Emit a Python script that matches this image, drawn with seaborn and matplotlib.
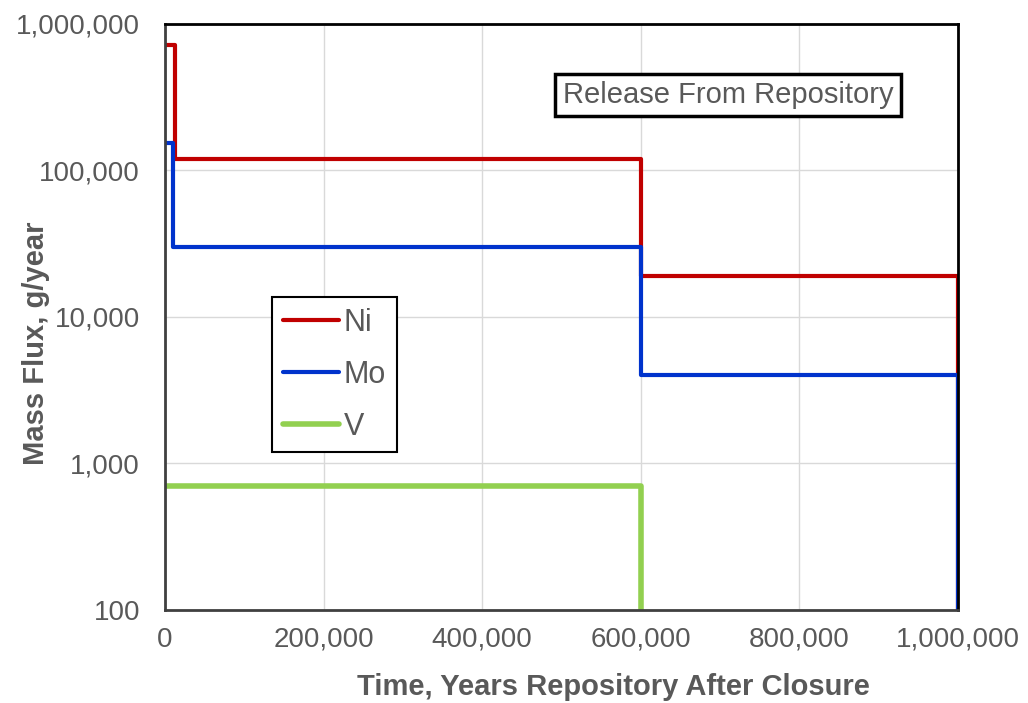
import pandas as pd
import seaborn as sns
import matplotlib.pyplot as plt
from matplotlib.ticker import FuncFormatter, NullLocator

# step data: value holds from each x until the next x
ni_x = [0, 12000, 600000, 1000000]
ni_y = [720000, 120000, 19000, 100]
mo_x = [0, 10000, 600000, 1000000]
mo_y = [155000, 30000, 4000, 100]
v_x = [0, 600000]
v_y = [700, 100]

df = pd.concat([
    pd.DataFrame({"time": ni_x, "flux": ni_y, "metal": "Ni"}),
    pd.DataFrame({"time": mo_x, "flux": mo_y, "metal": "Mo"}),
    pd.DataFrame({"time": v_x, "flux": v_y, "metal": "V"}),
])

colors = {"Ni": "#C00000", "Mo": "#0033CC", "V": "#92D050"}

sns.set_theme(style="whitegrid")
plt.rcParams["font.family"] = ["Liberation Sans", "DejaVu Sans"]

fig = plt.figure(figsize=(10.28, 7.03), dpi=100)
ax = fig.add_axes([0.1605, 0.1323, 0.7715, 0.8336])

sns.lineplot(data=df, x="time", y="flux", hue="metal", hue_order=["Ni", "Mo", "V"],
             palette=colors, estimator=None, drawstyle="steps-post",
             linewidth=3.0, ax=ax)
ax.lines[2].set_linewidth(4.0)

ax.set_yscale("log")
ax.set_ylim(100, 1000000)
ax.set_xlim(0, 1000000)
ax.set_xticks([0, 200000, 400000, 600000, 800000, 1000000])
ax.yaxis.set_minor_locator(NullLocator())
fmt = FuncFormatter(lambda v, p: f"{v:,.0f}")
ax.xaxis.set_major_formatter(fmt)
ax.yaxis.set_major_formatter(fmt)

ax.grid(True, color="#D9D9D9", linewidth=1)
ax.set_facecolor("white")
for side in ["top", "right"]:
    ax.spines[side].set_color("black")
    ax.spines[side].set_linewidth(2)
for side in ["left", "bottom"]:
    ax.spines[side].set_color("#404040")
    ax.spines[side].set_linewidth(2)

ax.tick_params(axis="y", length=0, pad=18, labelsize=20, labelcolor="#595959")
ax.tick_params(axis="x", length=0, pad=12, labelsize=20, labelcolor="#595959")

ax.set_xlabel("Time, Years Repository After Closure", fontsize=21, fontweight="bold",
              color="#595959")
ax.set_ylabel("Mass Flux, g/year", fontsize=21, fontweight="bold", color="#595959")
ax.xaxis.set_label_coords(0.566, -0.108)
ax.yaxis.set_label_coords(-0.145, 0.455)

ax.text(0.71, 0.879, "Release From Repository", transform=ax.transAxes,
        ha="center", va="center", fontsize=21, color="#595959",
        bbox=dict(boxstyle="square,pad=0.25", facecolor="white", edgecolor="black", linewidth=2.5))

handles, labels = ax.get_legend_handles_labels()
leg = ax.legend(handles, labels, loc="upper left", bbox_to_anchor=(0.135, 0.534),
                fontsize=22, fancybox=False, framealpha=1, edgecolor="black",
                labelspacing=0.72, handlelength=1.85, handletextpad=0.15,
                borderpad=0.35, borderaxespad=0)
leg.get_frame().set_linewidth(1.5)
leg.legend_handles[2].set_linewidth(4.0)
for t in leg.get_texts():
    t.set_color("#595959")

fig.savefig("out.png", dpi=100)
